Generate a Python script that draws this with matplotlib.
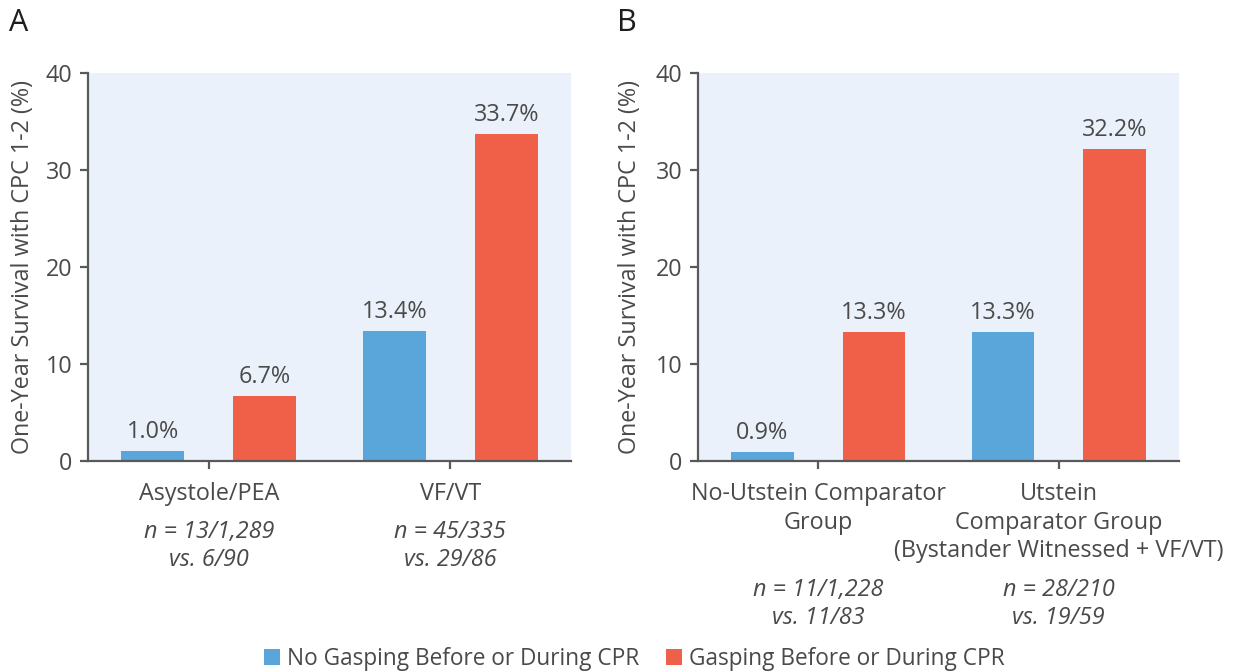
import matplotlib
matplotlib.use("Agg")
import matplotlib.pyplot as plt
from matplotlib.patches import Patch

plt.rcParams['font.family'] = ['Open Sans', 'DejaVu Sans']

# ---- data ----
categories_a = ['Asystole/PEA', 'VF/VT']
no_gasp_a = [1.0, 13.4]
gasp_a = [6.7, 33.7]
n_labels_a = ['n = 13/1,289\nvs. 6/90', 'n = 45/335\nvs. 29/86']

categories_b = ['No-Utstein Comparator\nGroup',
                'Utstein\nComparator Group\n(Bystander Witnessed + VF/VT)']
no_gasp_b = [0.9, 13.3]
gasp_b = [13.3, 32.2]
n_labels_b = ['n = 11/1,228\nvs. 11/83', 'n = 28/210\nvs. 19/59']

series_names = ['No Gasping Before or During CPR', 'Gasping Before or During CPR']
yticks = [0, 10, 20, 30, 40]
ylabel = 'One-Year Survival with CPC 1-2 (%)'
panel_letters = ['A', 'B']

# ---- style ----
BLUE = '#5AA6DA'
RED = '#F05F48'
BG = '#EAF1FA'
AX = '#58595B'
TXT = '#4A4A4A'
FS = 16.8
LINE = 20.3  # points between text lines

W, H = 1236, 672
fig = plt.figure(figsize=(W / 100, H / 100), dpi=100)

def px_axes(left, right, top, bottom):
    return fig.add_axes([left / W, 1 - bottom / H, (right - left) / W, (bottom - top) / H])

ax_a = px_axes(88, 571, 73, 461)
ax_b = px_axes(698, 1179, 73, 461)

bar_w = 0.26
off = 0.232

def lines_at(ax, i, text, start, **kw):
    for k, line in enumerate(text.split('\n')):
        ax.annotate(line, (i, 0), xycoords=('data', 'axes fraction'),
                    xytext=(0, -(start + k * LINE)), textcoords='offset points',
                    ha='center', va='center', fontsize=FS, color=TXT, **kw)

def draw(ax, cats, s1, s2, nlabels, n_off, ylab_x):
    ax.set_facecolor(BG)
    x = list(range(len(cats)))
    b1 = ax.bar([i - off for i in x], s1, width=bar_w, color=BLUE, zorder=2)
    b2 = ax.bar([i + off for i in x], s2, width=bar_w, color=RED, zorder=2)
    for bars, vals in ((b1, s1), (b2, s2)):
        for r, v in zip(bars, vals):
            ax.annotate(f'{v:.1f}%', (r.get_x() + r.get_width() / 2, v),
                        xytext=(0, 5), textcoords='offset points',
                        ha='center', va='bottom', fontsize=FS, color=TXT)
    ax.set_xlim(-0.5, 1.5)
    ax.set_ylim(0, 40)
    ax.set_yticks(yticks)
    ax.set_xticks(x)
    ax.set_xticklabels([''] * len(x))
    for s in ('top', 'right'):
        ax.spines[s].set_visible(False)
    for s in ('left', 'bottom'):
        ax.spines[s].set_color(AX)
        ax.spines[s].set_linewidth(1.6)
    ax.tick_params(axis='both', direction='out', length=6, width=1.6, color=AX,
                   labelcolor=TXT, labelsize=FS)
    ax.tick_params(axis='y', pad=5)
    ax.set_ylabel(ylabel, fontsize=FS, color=TXT)
    ax.yaxis.set_label_coords(ylab_x, 0.5)
    for i, c in enumerate(cats):
        lines_at(ax, i, c, 24)
    for i, t in enumerate(nlabels):
        lines_at(ax, i, t, n_off, style='italic')

draw(ax_a, categories_a, no_gasp_a, gasp_a, n_labels_a, 51, -0.11)
draw(ax_b, categories_b, no_gasp_b, gasp_b, n_labels_b, 93, -0.116)

fig.text(9 / W, 1 - 23 / H, panel_letters[0], fontsize=22, color='#1E1E1E', va='center')
fig.text(617 / W, 1 - 23 / H, panel_letters[1], fontsize=22, color='#1E1E1E', va='center')

handles = [Patch(facecolor=BLUE, label=series_names[0]),
           Patch(facecolor=RED, label=series_names[1])]
fig.legend(handles=handles, loc='center', bbox_to_anchor=(0.513, 1 - 659 / H),
           ncol=2, frameon=False, fontsize=16.3, labelcolor=TXT,
           handlelength=0.7, handleheight=0.7, handletextpad=0.3,
           columnspacing=1.2, borderpad=0)

fig.savefig('out.png', dpi=100)
